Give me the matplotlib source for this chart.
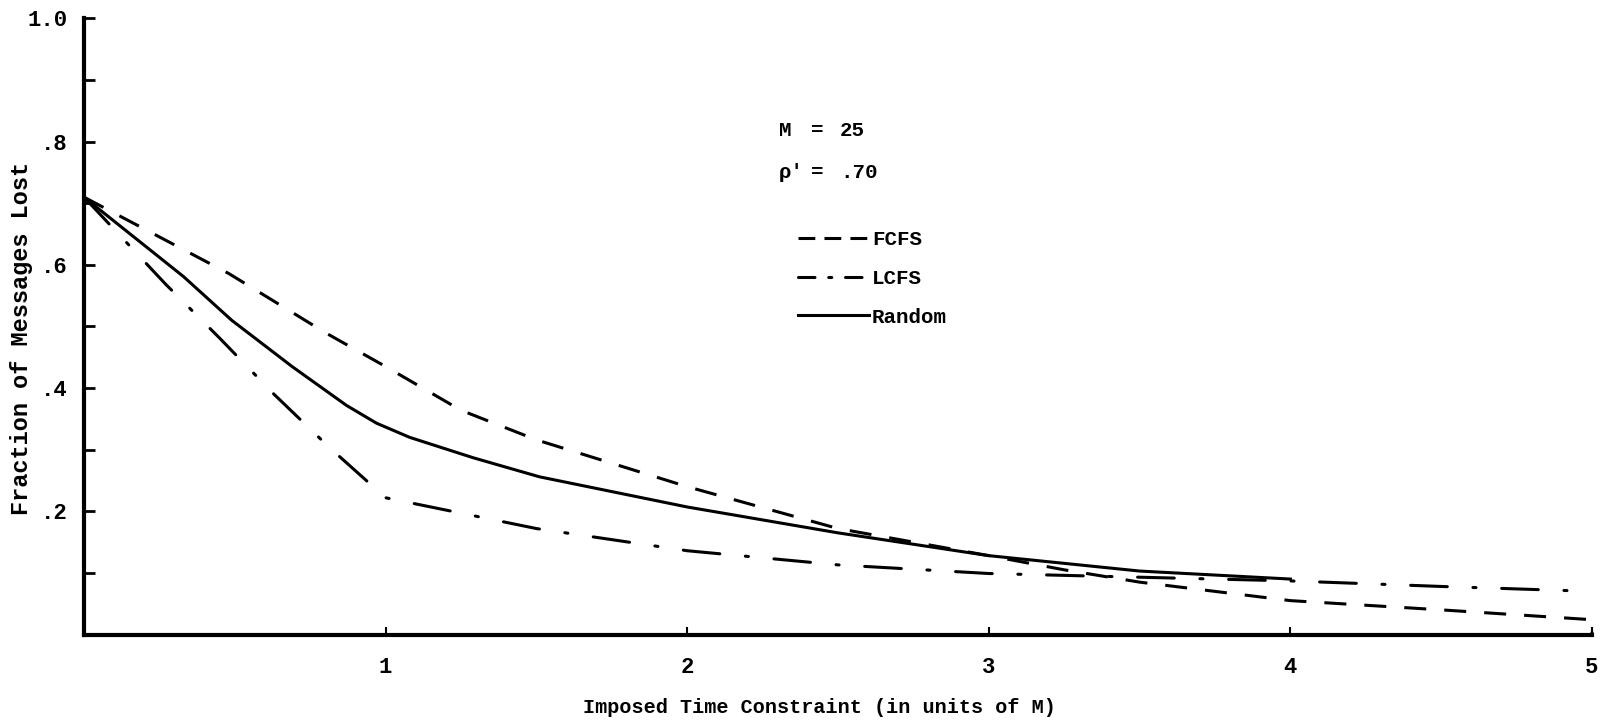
import numpy as np
import matplotlib
matplotlib.use("Agg")
import matplotlib.pyplot as plt
from matplotlib.lines import Line2D
from matplotlib.ticker import FixedLocator

# ---------------------------------------------------------------- data
fcfs_x = [0.0, 0.48, 0.8, 1.0, 1.25, 1.5, 2.0, 2.5, 3.0, 3.25, 3.5, 4.0, 4.5, 5.0, 5.0]
fcfs_y = [0.71, 0.586, 0.49, 0.435, 0.364, 0.316, 0.24, 0.172, 0.128, 0.105, 0.085, 0.055, 0.04, 0.024, 0.0]

lcfs_x = [0.0, 0.27, 0.45, 0.63, 0.815, 1.0, 1.5, 2.0, 2.5, 3.0, 3.5, 4.0, 4.5, 5.0]
lcfs_y = [0.71, 0.569, 0.481, 0.39, 0.303, 0.222, 0.172, 0.136, 0.113, 0.099, 0.093, 0.087, 0.078, 0.07]

rand_x = [0.0, 0.33, 0.49, 0.69, 0.87, 0.97, 1.08, 1.29, 1.51, 2.0, 2.5, 3.0, 3.5, 4.0]
rand_y = [0.71, 0.581, 0.51, 0.435, 0.372, 0.343, 0.32, 0.287, 0.256, 0.207, 0.165, 0.128, 0.103, 0.09]

x_ticks = [1, 2, 3, 4, 5]
y_major = [0.2, 0.4, 0.6, 0.8, 1.0]
y_major_labels = [".2", ".4", ".6", ".8", "1.0"]
y_minor = [0.1, 0.3, 0.5, 0.7, 0.9]

series_names = ["FCFS", "LCFS", "Random"]
params = [("M", "25"), ("\u03c1\u2032", ".70")]

# ---------------------------------------------------------------- style
MONO = ["Liberation Mono", "DejaVu Sans Mono"]
plt.rcParams["font.family"] = MONO
plt.rcParams["font.weight"] = "bold"

W, H = 1607, 727
fig = plt.figure(figsize=(W / 100, H / 100), dpi=100)
ax = fig.add_axes([84 / W, 1 - 634.5 / H, (1592 - 84) / W, (634.5 - 18.5) / H])

lw = 2.2
ax.plot(fcfs_x, fcfs_y, color="black", lw=lw, dashes=(7.2, 5.9), clip_on=False)
ax.plot(lcfs_x, lcfs_y, color="black", lw=lw, dashes=(12.0, 8.4, 1.0, 8.4),
        dash_capstyle="round", clip_on=False)
ax.plot(rand_x, rand_y, color="black", lw=lw, clip_on=False)

ax.set_xlim(0, 5)
ax.set_ylim(0, 1.0)
for s in ("top", "right"):
    ax.spines[s].set_visible(False)
for s in ("left", "bottom"):
    ax.spines[s].set_linewidth(3)

ax.xaxis.set_major_locator(FixedLocator(x_ticks))
ax.set_xticklabels([str(t) for t in x_ticks])
ax.yaxis.set_major_locator(FixedLocator(y_major))
ax.set_yticklabels(y_major_labels)
ax.yaxis.set_minor_locator(FixedLocator(y_minor))
ax.tick_params(axis="y", which="both", direction="in", length=8, width=2,
               pad=12, labelsize=16)
ax.tick_params(axis="x", which="both", direction="in", length=6, width=1.5,
               pad=16, labelsize=16)

ax.set_xlabel("Imposed Time Constraint (in units of M)", fontsize=14.5,
              fontweight="bold", va="top")
ax.xaxis.set_label_coords(0.488, -0.103)
ax.set_ylabel("Fraction of Messages Lost", fontsize=17, fontweight="bold")
ax.yaxis.set_label_coords(-0.034, 0.481)

# parameter block
for i, (name, val) in enumerate(params):
    y = 1 - (131 + 41 * i) / H
    fig.text(779 / W, y, name, fontsize=15, va="center", ha="left")
    fig.text(817 / W, y, "=", fontsize=15, va="center", ha="center")
    fig.text(840 / W, y, val, fontsize=15, va="center", ha="left")

# legend keys drawn with shorter dash patterns, as in the original key
handles = [
    Line2D([], [], color="black", lw=lw, dashes=(5.5, 3.0)),
    Line2D([], [], color="black", lw=lw, dashes=(5.4, 4.5, 1.0, 4.5),
           dash_capstyle="round"),
    Line2D([], [], color="black", lw=lw),
]
ax.legend(handles, series_names, loc="upper left",
          bbox_to_anchor=(798 / W, 1 - 230 / H),
          bbox_transform=fig.transFigure, frameon=False, fontsize=15,
          handlelength=3.4, handletextpad=0.15, labelspacing=0.95,
          borderpad=0, borderaxespad=0)

fig.savefig("out.png", dpi=100)
